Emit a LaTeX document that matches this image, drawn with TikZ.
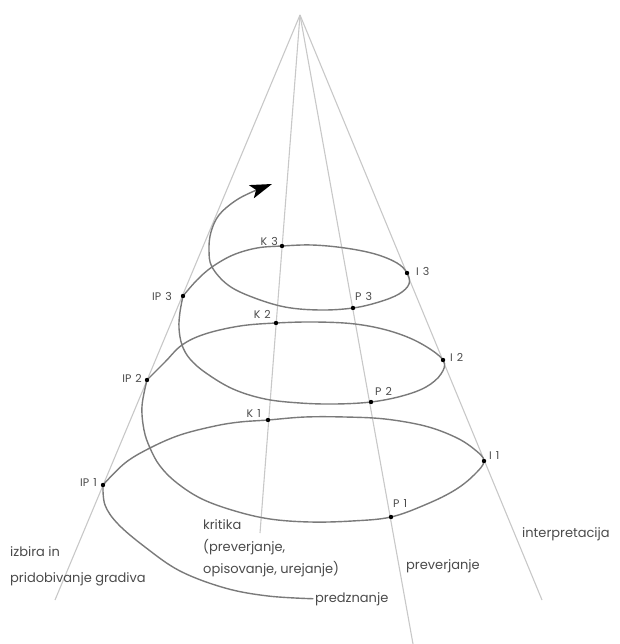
\documentclass[tikz,border=0pt]{standalone}
\usepackage{fontspec}
\setmainfont{Poppins}
\usetikzlibrary{arrows.meta}
\definecolor{conec}{HTML}{C8C8C8}
\definecolor{spir}{HTML}{7A7A7A}
\definecolor{txt}{HTML}{4A4A4A}
\begin{document}
\begin{tikzpicture}[x=1pt,y=-1pt,
  cone/.style={draw=conec, line width=1.1pt},
  spiral/.style={draw=spir, line width=1.4pt, line cap=round, line join=round},
  dot/.style={circle, fill=black, inner sep=0pt, minimum size=4.4pt},
  ptlab/.style={font=\fontsize{11}{12}\selectfont, text=txt, inner sep=0pt},
  biglab/.style={font=\fontsize{13}{13}\selectfont, text=txt, inner sep=0pt, align=left},
]
\useasboundingbox (0,0) rectangle (619,644);
% cone lines
\coordinate (apex) at (300,15);
\coordinate (endL) at (55,600);
\coordinate (endK) at (260,533);
\coordinate (endP) at (413,644);
\coordinate (endI) at (542,600);
\draw[cone] (apex) -- (endL);
\draw[cone] (apex) -- (endK);
\draw[cone] (apex) -- (endP);
\draw[cone] (apex) -- (endI);
% points
\coordinate (IP1) at (103,485);
\coordinate (IP2) at (147,380);
\coordinate (IP3) at (183,296);
\coordinate (K1) at (268,420);
\coordinate (K2) at (276,323);
\coordinate (K3) at (282,246);
\coordinate (I1) at (484,461);
\coordinate (I2) at (443,360);
\coordinate (I3) at (407,273);
\coordinate (P1) at (391,517);
\coordinate (P2) at (371,402);
\coordinate (P3) at (353,308);
\coordinate (X1) at (150,448);
\coordinate (X2) at (182,345);
\coordinate (X3) at (212,267);
\coordinate (tip) at (272,184);
% text labels
\node[biglab, anchor=base west] (izbira) at (10,556) {izbira in};
\node[biglab, anchor=base west] (pridob) at (10,582) {pridobivanje gradiva};
\node[biglab, anchor=base west] (krit1) at (203,529) {kritika};
\node[biglab, anchor=base west] (krit2) at (203,551) {(preverjanje,};
\node[biglab, anchor=base west] (krit3) at (203,573) {opisovanje, urejanje)};
\node[biglab, anchor=base west] (interp) at (522,537) {interpretacija};
\node[biglab, anchor=base west] (prever) at (406,569) {preverjanje};
\node[biglab, anchor=base west] (predz) at (315,602) {predznanje};
% spiral
\draw[spiral] plot[smooth, tension=0.6] coordinates {([xshift=-2pt]predz.west) (268,596) (225,588) (180,571) (145,547) (118,524) (105,505) (IP1)};
\draw[spiral] plot[smooth, tension=0.6] coordinates {(IP1) (125,463) (X1) (180,435) (215,426) (240,422) (K1) (305,417) (345,417) (385,419) (425,426) (455,437) (474,449) (I1) (474,475) (455,490) (427,504) (P1) (352,521) (310,522) (270,519) (235,511) (202,499) (177,483) (160,466) (X1) (144,430) (142,406) (IP2)};
\draw[spiral] plot[smooth, tension=0.6] coordinates {(IP2) (165,362) (X2) (205,334) (240,326) (K2) (315,322) (355,324) (390,331) (420,343) (I2) (441,374) (426,387) (402,396) (P2) (335,404) (300,403) (265,399) (233,389) (206,373) (190,359) (X2) (179,328) (180,312) (IP3)};
\draw[spiral, -{Stealth[length=22pt,width=14pt,inset=5pt,color=black]}] plot[smooth, tension=0.6] coordinates {(IP3) (197,280) (X3) (233,255) (257,248) (K3) (312,245) (345,248) (375,254) (397,263) (I3) (409,284) (399,294) (379,302) (P3) (320,310) (285,307) (252,297) (228,285) (X3) (209,250) (211,232) (219,215) (235,201) (252,192) (tip)};
% dots
\foreach \p in {IP1,IP2,IP3,K1,K2,K3,I1,I2,I3,P1,P2,P3} \node[dot] (d\p) at (\p) {};
% point labels
\node[ptlab, anchor=east] (lIP1) at (97,483) {IP\hspace{4pt}1};
\node[ptlab, anchor=east] (lIP2) at (142,378) {IP\hspace{4pt}2};
\node[ptlab, anchor=east] (lIP3) at (172,296) {IP\hspace{4pt}3};
\node[ptlab, anchor=east] (lK1) at (261,414) {K\hspace{4pt}1};
\node[ptlab, anchor=east] (lK2) at (271,314) {K\hspace{4pt}2};
\node[ptlab, anchor=east] (lK3) at (278,241) {K\hspace{4pt}3};
\node[ptlab, anchor=west] (lI1) at (489,456) {I\hspace{4pt}1};
\node[ptlab, anchor=west] (lI2) at (450,357) {I\hspace{4pt}2};
\node[ptlab, anchor=west] (lI3) at (416,271) {I\hspace{4pt}3};
\node[ptlab, anchor=west] (lP1) at (393,504) {P\hspace{4pt}1};
\node[ptlab, anchor=west] (lP2) at (375,391) {P\hspace{4pt}2};
\node[ptlab, anchor=west] (lP3) at (355,296) {P\hspace{4pt}3};
\end{tikzpicture}
\end{document}
